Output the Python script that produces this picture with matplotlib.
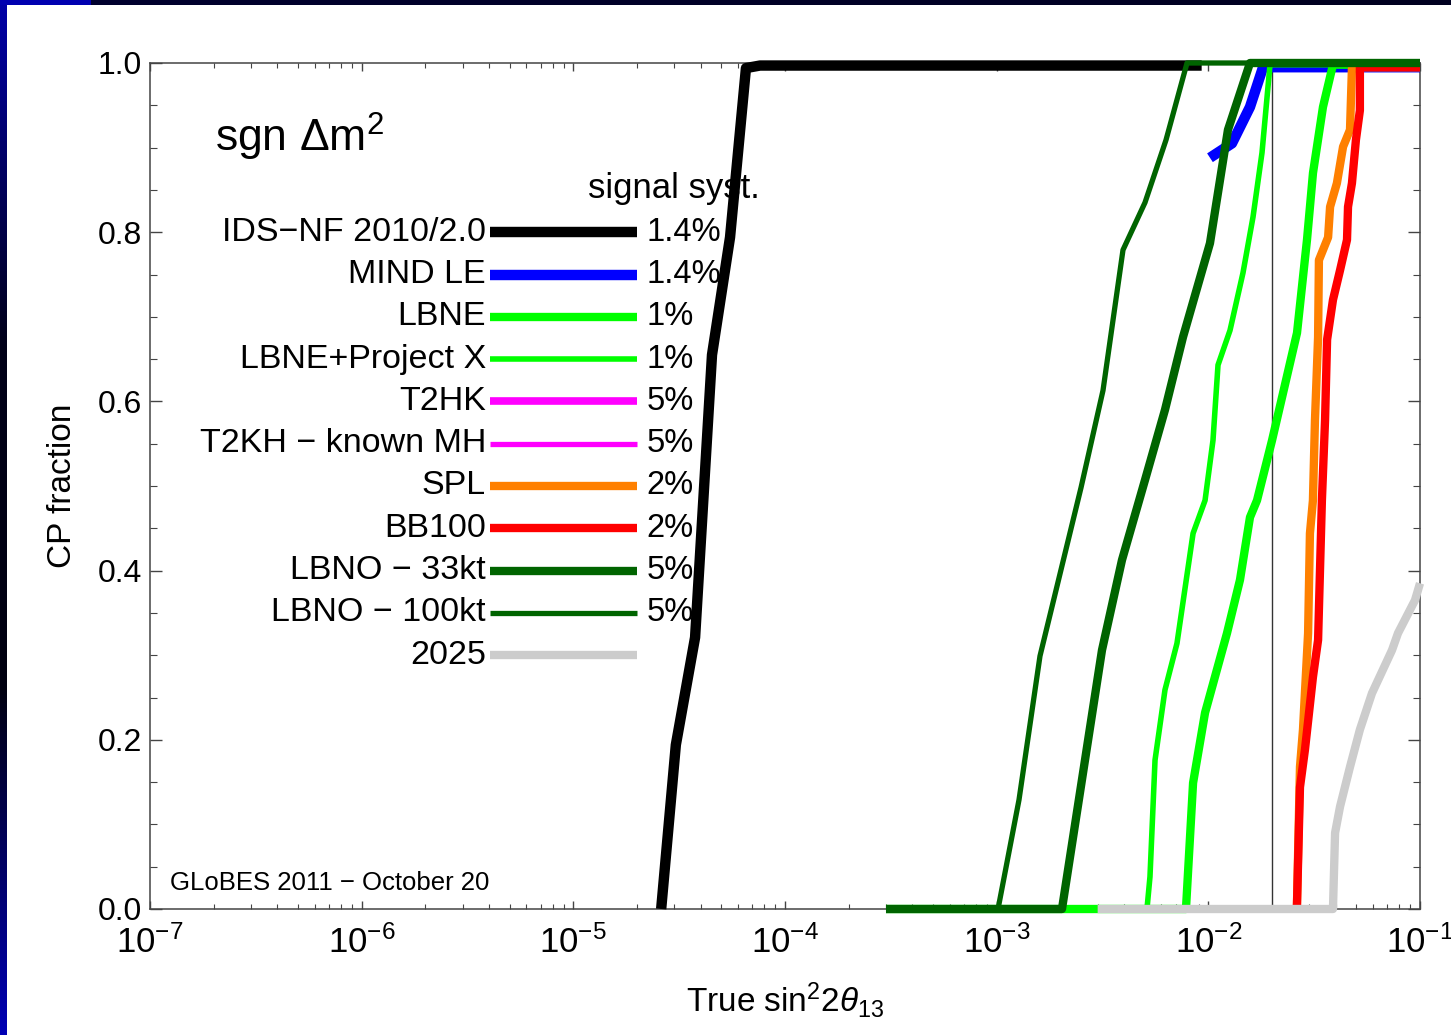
import numpy as np
import matplotlib.pyplot as plt
from matplotlib.ticker import MultipleLocator, LogLocator, NullFormatter, FormatStrFormatter
from matplotlib.colors import LinearSegmentedColormap

plt.rcParams['font.family'] = ['Liberation Sans', 'DejaVu Sans']
plt.rcParams['mathtext.fontset'] = 'custom'
plt.rcParams['mathtext.rm'] = 'Liberation Sans'
plt.rcParams['mathtext.it'] = 'Liberation Sans:italic'
plt.rcParams['mathtext.bf'] = 'Liberation Sans:bold'

# curves: x = true sin^2 2theta13, y = CP fraction
nf_x = [2.6e-5, 3.05e-5, 3.76e-5, 4.52e-5, 5.5e-5, 6.54e-5, 7.62e-5, 9.3e-3]
nf_y = [0.0, 0.194, 0.321, 0.655, 0.794, 0.994, 0.997, 0.997]

mind_x = [1.018e-2, 1.293e-2, 1.573e-2, 1.813e-2, 0.1]
mind_y = [0.888, 0.905, 0.948, 0.995, 0.995]

lbne_x = [3.0e-4, 7.84e-3, 8.47e-3, 9.65e-3, 1.225e-2, 1.411e-2, 1.573e-2, 1.698e-2,
          2.0e-2, 2.624e-2, 2.925e-2, 3.122e-2, 3.48e-2, 3.88e-2, 0.1]
lbne_y = [0.0, 0.0, 0.149, 0.232, 0.326, 0.389, 0.463, 0.483,
          0.554, 0.681, 0.791, 0.870, 0.948, 0.998, 0.998]

lbnepx_x = [3.0e-4, 5.13e-3, 5.30e-3, 5.60e-3, 6.24e-3, 7.11e-3, 8.47e-3, 9.65e-3,
            1.052e-2, 1.111e-2, 1.266e-2, 1.458e-2, 1.626e-2, 1.793e-2, 1.956e-2, 0.1]
lbnepx_y = [0.0, 0.0, 0.038, 0.176, 0.259, 0.314, 0.444, 0.483,
            0.554, 0.643, 0.684, 0.752, 0.818, 0.894, 0.998, 0.998]

spl_x = [2.62e-2, 2.71e-2, 2.80e-2, 2.96e-2, 3.02e-2, 3.12e-2, 3.19e-2, 3.30e-2,
         3.33e-2, 3.68e-2, 3.76e-2, 4.05e-2, 4.33e-2, 4.67e-2, 4.77e-2, 0.1]
spl_y = [0.0, 0.168, 0.212, 0.326, 0.444, 0.483, 0.578, 0.676,
         0.767, 0.794, 0.830, 0.858, 0.901, 0.921, 0.995, 0.995]

bb_x = [2.62e-2, 2.71e-2, 2.86e-2, 3.12e-2, 3.30e-2, 3.44e-2, 3.56e-2, 3.64e-2,
        3.88e-2, 4.19e-2, 4.52e-2, 4.57e-2, 4.77e-2, 4.98e-2, 5.2e-2, 5.2e-2, 0.1]
bb_y = [0.0, 0.144, 0.188, 0.274, 0.318, 0.483, 0.578, 0.673,
        0.720, 0.755, 0.791, 0.830, 0.858, 0.909, 0.944, 0.995, 0.995]

lbno33_x = [3.0e-4, 2.035e-3, 3.145e-3, 3.909e-3, 5.02e-3, 6.24e-3, 7.59e-3,
            1.018e-2, 1.238e-2, 1.573e-2, 0.1]
lbno33_y = [0.0, 0.0, 0.306, 0.4125, 0.507, 0.590, 0.676,
            0.787, 0.921, 1.0, 1.0]

lbno100_x = [3.0e-4, 1.015e-3, 1.275e-3, 1.602e-3, 2.503e-3, 3.18e-3, 3.952e-3,
             5.02e-3, 6.31e-3, 7.93e-3, 0.1]
lbno100_y = [0.0, 0.0, 0.129, 0.299, 0.498, 0.613, 0.779,
             0.835, 0.909, 1.0, 1.0]

y2025_x = [3.0e-3, 3.88e-2, 3.97e-2, 4.19e-2, 4.67e-2, 5.2e-2, 5.93e-2, 7.375e-2,
           7.87e-2, 9.47e-2, 0.1]
y2025_y = [0.0, 0.0, 0.090, 0.121, 0.168, 0.212, 0.255, 0.306,
           0.326, 0.365, 0.385]

ref_x = 0.02

labels = ['IDS\u2212NF 2010/2.0', 'MIND LE', 'LBNE', 'LBNE+Project X', 'T2HK',
          'T2KH \u2212 known MH', 'SPL', 'BB100', 'LBNO \u2212 33kt',
          'LBNO \u2212 100kt', '2025']
syst = ['1.4%', '1.4%', '1%', '1%', '5%', '5%', '2%', '2%', '5%', '5%', '']
colors = ['#000000', '#0000ff', '#00ff00', '#00ff00', '#ff00ff', '#ff00ff',
          '#ff8000', '#ff0000', '#006400', '#006400', '#cccccc']
widths = [7.5, 7.5, 6, 4, 5.5, 3.8, 6, 6, 6, 3.8, 6]

fig = plt.figure(figsize=(14.51, 10.35), dpi=100)
fig.patch.set_facecolor('white')

# dark blue frame on the top and left edges
cmap = LinearSegmentedColormap.from_list('frame', ['#0000a8', '#000018', '#000010', '#0000b4'])
lax = fig.add_axes([0, 0, 7 / 1451, 1])
lax.imshow(np.linspace(0, 1, 256).reshape(-1, 1), aspect='auto', cmap=cmap)
lax.axis('off')
tax = fig.add_axes([0, 1 - 5 / 1035, 1, 5 / 1035])
tcm = LinearSegmentedColormap.from_list('top', ['#0000b0', '#0000a0', '#000030', '#000020'])
tax.imshow(np.concatenate([np.zeros(6), np.linspace(0.7, 1, 90)]).reshape(1, -1),
           aspect='auto', cmap=tcm)
tax.axis('off')

ax = fig.add_axes([150 / 1451, 1 - 909 / 1035, 1270 / 1451, 846 / 1035])
ax.set_xscale('log')
ax.set_xlim(1e-7, 1e-1)
ax.set_ylim(0, 1)

ax.axvline(ref_x, color='#333333', lw=1, zorder=1)

curves = [(nf_x, nf_y, 0), (mind_x, mind_y, 1), (lbne_x, lbne_y, 2),
          (lbnepx_x, lbnepx_y, 3), (spl_x, spl_y, 6), (bb_x, bb_y, 7),
          (lbno33_x, lbno33_y, 8), (lbno100_x, lbno100_y, 9),
          (y2025_x, y2025_y, 10)]
for i, (xs, ys, k) in enumerate(curves):
    ax.plot(xs, ys, color=colors[k], lw=widths[k], clip_on=False,
            solid_capstyle='butt', solid_joinstyle='round', zorder=3 + i)

# hand-drawn legend
ax.text(0.051, 0.895, r'sgn $\Delta\mathrm{m}^{2}$', transform=ax.transAxes,
        fontsize=32, ha='left', va='baseline')
ax.text(0.345, 0.840, 'signal syst.', transform=ax.transAxes,
        fontsize=25, ha='left', va='baseline', zorder=1)
for i in range(len(labels)):
    yy = 0.8 - 0.05 * i
    ax.text(0.2646, yy, labels[i], transform=ax.transAxes, fontsize=24.5,
            ha='right', va='center')
    ax.plot([0.2677, 0.3835], [yy, yy], transform=ax.transAxes,
            color=colors[i], lw=widths[i], solid_capstyle='butt', zorder=20)
    ax.text(0.391, yy, syst[i], transform=ax.transAxes, fontsize=23.5,
            ha='left', va='center', zorder=21)

ax.text(0.0157, 0.031, 'GLoBES 2011 \u2212 October 20', transform=ax.transAxes,
        fontsize=18.5, ha='left', va='center')

ax.set_xlabel(r'True $\mathrm{sin}^{2}\mathrm{2}\theta_{13}$', fontsize=24, labelpad=14)
ax.set_ylabel('CP fraction', fontsize=24, labelpad=14)

ax.xaxis.set_major_locator(LogLocator(base=10, numticks=10))
ax.xaxis.set_minor_locator(LogLocator(base=10, subs=np.arange(2, 10), numticks=20))
ax.xaxis.set_minor_formatter(NullFormatter())
ax.yaxis.set_major_locator(MultipleLocator(0.2))
ax.yaxis.set_minor_locator(MultipleLocator(0.05))
ax.yaxis.set_major_formatter(FormatStrFormatter('%.1f'))

ax.tick_params(axis='both', which='both', direction='in', top=True, right=True,
               color='#444444')
ax.tick_params(axis='x', which='major', length=6, width=1, pad=12, labelsize=25)
ax.tick_params(axis='x', which='minor', length=3.5, width=0.8)
ax.tick_params(axis='y', which='major', length=8.5, width=1, pad=6, labelsize=23)
ax.tick_params(axis='y', which='minor', length=5, width=0.8)
for s in ax.spines.values():
    s.set_color('#444444')
    s.set_linewidth(1.1)

fig.savefig('out.png', dpi=100, facecolor='white')
